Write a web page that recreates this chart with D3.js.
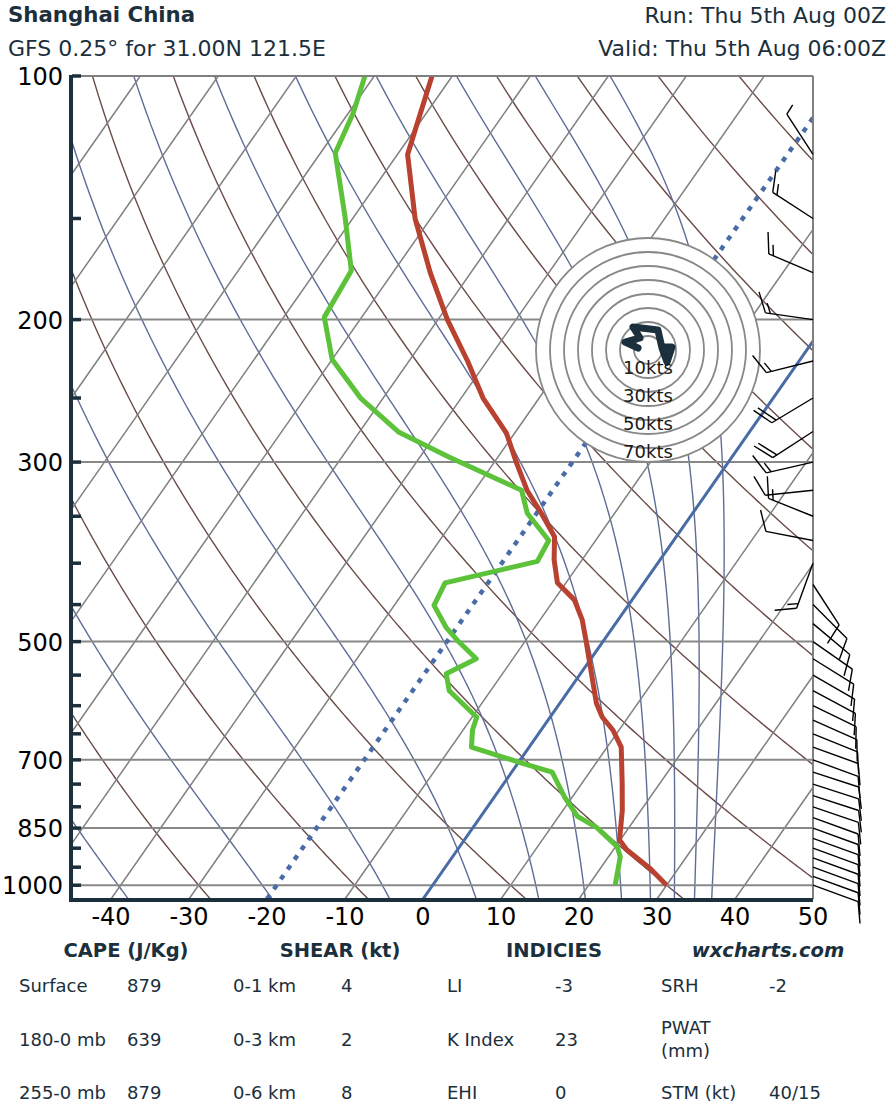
<!DOCTYPE html>
<html><head><meta charset="utf-8">
<script src="https://cdn.jsdelivr.net/npm/d3@7"></script>
<style>body{margin:0;background:#fff;} text{font-family:"DejaVu Sans",Verdana,sans-serif;}</style>
</head><body><svg id="c" width="892" height="1110"></svg>
<script>
// ---- data ----
const tempP = [100,125,150,175,200,225,250,276,300,325,347,371,396,423,444,470,498,596,620,643,675,749,808,879,904,955,1000];
const tempT = [-72.6,-68.7,-62.0,-55.2,-48.8,-42.5,-37.2,-31.1,-27.2,-23.3,-19.4,-15.6,-13.6,-11.1,-7.4,-4.6,-2.3,4.7,6.7,9.2,11.8,15.2,17.6,19.9,21.7,26.5,30.0];
const dewP = [100,111,124.5,149.4,174,198.6,224,250,275.6,295.6,325,347,375,398,423,451,480,498,525,548,575,620,643,675,707,725,778,822,849,896,922,1000];
const dewT = [-81.2,-79.4,-78.1,-71.1,-65.5,-64.8,-60.0,-52.9,-44.9,-36.3,-24.0,-21.2,-16.0,-15.6,-25.5,-24.9,-21.4,-18.8,-14.7,-17.2,-15.3,-9.4,-8.8,-7.4,0.6,5.2,9.0,12.4,15.9,20.2,21.5,23.4];
const windP = [125,150,175,200,225,250,275,300,325,350,375,400,425,450,475,500,525,550,575,600,625,650,675,700,725,750,775,800,825,850,875,900,925,950,975,1000];
const windDir = [327,303,293,278,256,239,237,257,264,292,281,200,147,135,130,125,122,120,118,116,114,112,110,110,108,108,108,109,110,110,110,110,110,110,110,110];
const windSpd = [5,15,15,15,15,20,20,15,10,15,10,15,10,10,10,10,10,10,10,10,10,10,10,10,10,10,10,10,10,10,10,10,10,10,10,10];
const hodoU = [-7.1,-16.4,-5.7,-10.7,7.1,10,13.6,17.1,10];
const hodoV = [1.4,5.7,8.6,16.4,14.3,1.4,-8.6,2.1,2.1];
const hodoRings = [10,20,30,40,50,60,70,80];
const hodoLabels = ["10kts","30kts","50kts","70kts"];
const pLabels = [100,200,300,500,700,850,1000];
const pTicks = [100,150,200,250,300,350,400,450,500,550,600,650,700,750,800,850,900,950,1000];
const tLabels = [-40,-30,-20,-10,0,10,20,30,40,50];
const isoT = d3.range(-110, 51, 10).filter(t => t !== 0 && t !== -20);
const dryTheta = d3.range(-50, 231, 20);      // deg C
const moistThetaE = d3.range(-40, 161, 20);   // deg C
const title = "Shanghai China";
const subtitle = "GFS 0.25\u00b0 for 31.00N 121.5E";
const runText = "Run: Thu 5th Aug 00Z";
const validText = "Valid: Thu 5th Aug 06:00Z";
const tableHeaders = ["CAPE (J/Kg)","SHEAR (kt)","INDICIES","wxcharts.com"];
const tableRows = [
  ["Surface","879","0-1 km","4","LI","-3","SRH","-2"],
  ["180-0 mb","639","0-3 km","2","K Index","23","PWAT\n(mm)",""],
  ["255-0 mb","879","0-6 km","8","EHI","0","STM (kt)","40/15"]
];

// ---- layout ----
const svg = d3.select("#c");
const L = 72, R = 813, T = 76, B = 899, SKEW = 0.699;
const yS = d3.scaleLog().domain([100, 1040]).range([T, B]);
const xS = d3.scaleLinear().domain([-45, 50]).range([L, R]);
const px = (t, p) => xS(t) + SKEW * (B - yS(p));
const pGrid = d3.range(100, 1041, 5);

svg.append("defs").append("clipPath").attr("id","clip").append("rect")
  .attr("x",L).attr("y",T).attr("width",R-L).attr("height",B-T);
const g = svg.append("g").attr("clip-path","url(#clip)");
const line = d3.line().x(d=>d[0]).y(d=>d[1]);

// dry adiabats
dryTheta.forEach(th => {
  const pts = pGrid.map(p => [px((th+273.15)*Math.pow(p/1000,0.2857)-273.15, p), yS(p)]);
  g.append("path").attr("d", line(pts)).attr("fill","none").attr("stroke","#6b4b47").attr("stroke-width",1.4);
});
// moist adiabats
function thetaE(tc, p){
  const tk = tc+273.15;
  const es = 6.112*Math.exp(17.67*tc/(tc+243.5));
  const r = Math.max(0, 622*es/(p-es));
  return tk*Math.pow(1000/p, 0.2854*(1-0.00028*r))*Math.exp((3.376/tk-0.00254)*r*(1+0.00081*r));
}
function solveT(te, p){
  let lo=-170, hi=40;
  for(let i=0;i<60;i++){ const m=(lo+hi)/2; if(thetaE(m,p)>te) hi=m; else lo=m; }
  return (lo+hi)/2;
}
moistThetaE.forEach(te => {
  const pts = pGrid.map(p => [px(solveT(te+273.15,p), p), yS(p)]);
  g.append("path").attr("d", line(pts)).attr("fill","none").attr("stroke","#5d6d96").attr("stroke-width",1.4);
});
// isotherms
isoT.forEach(t => {
  g.append("line").attr("x1",px(t,1040)).attr("y1",yS(1040)).attr("x2",px(t,100)).attr("y2",yS(100))
    .attr("stroke","#7f7f7f").attr("stroke-width",1.5);
});
// isobars
pLabels.forEach(p => {
  g.append("line").attr("x1",L).attr("x2",R).attr("y1",yS(p)).attr("y2",yS(p))
    .attr("stroke","#888").attr("stroke-width",2);
});
// 0 and -20 isotherms
g.append("line").attr("x1",px(0,1040)).attr("y1",yS(1040)).attr("x2",px(0,100)).attr("y2",yS(100))
  .attr("stroke","#4a6ca6").attr("stroke-width",3);
g.append("line").attr("x1",px(-20,1040)).attr("y1",yS(1040)).attr("x2",px(-20,100)).attr("y2",yS(100))
  .attr("stroke","#4a6ca6").attr("stroke-width",4.5).attr("stroke-dasharray","5,7");

// profiles
const prof = (P, Tv) => P.map((p,i)=>[px(Tv[i],p), yS(p)]);
g.append("path").attr("d", line(prof(dewP,dewT))).attr("fill","none").attr("stroke","#5cc23a")
  .attr("stroke-width",5).attr("stroke-linejoin","round");
g.append("path").attr("d", line(prof(tempP,tempT))).attr("fill","none").attr("stroke","#b9412f")
  .attr("stroke-width",5).attr("stroke-linejoin","round");

// frame
svg.append("line").attr("x1",L).attr("x2",R).attr("y1",T).attr("y2",T).attr("stroke","#808080").attr("stroke-width",2);
svg.append("line").attr("x1",R).attr("x2",R).attr("y1",T).attr("y2",B).attr("stroke","#808080").attr("stroke-width",2);

// hodograph
const hx = 648, hy = 350;
const hs = d3.scaleLinear().domain([0,80]).range([0,112]);
svg.append("circle").attr("cx",hx).attr("cy",hy).attr("r",hs(80)).attr("fill","#fff");
hodoRings.forEach(k => svg.append("circle").attr("cx",hx).attr("cy",hy).attr("r",hs(k))
  .attr("fill","none").attr("stroke","#888").attr("stroke-width",1.8));
svg.append("path").attr("d", line(hodoU.map((u,i)=>[hx+hs(u), hy-hs(hodoV[i])])))
  .attr("fill","none").attr("stroke","#1b2f3c").attr("stroke-width",7).attr("stroke-linejoin","round").attr("stroke-linecap","round");
hodoLabels.forEach((t,i) => svg.append("text").attr("x",hx).attr("y",hy+hs(10+20*i)+10)
  .attr("text-anchor","middle").attr("font-size",18).attr("fill","#1a1a1a").text(t));

// wind barbs
const wb = svg.append("g").attr("stroke","#000").attr("stroke-width",1.4).attr("fill","none");
windP.forEach((p,i) => {
  const d = windDir[i]*Math.PI/180, s = Math.round(windSpd[i]/5)*5;
  const ux = Math.sin(d), uy = -Math.cos(d);
  const qx = -uy, qy = ux;
  const x0 = R, y0 = yS(p), Ls = 48;
  const tx = x0+ux*Ls, ty = y0+uy*Ls;
  wb.append("line").attr("x1",x0).attr("y1",y0).attr("x2",tx).attr("y2",ty);
  const ca = Math.cos(25*Math.PI/180), sa = Math.sin(25*Math.PI/180);
  const bx = qx*ca+ux*sa, by = qy*ca+uy*sa;
  let full = Math.floor(s/10), half = (s%10)>=5 ? 1 : 0, off = 0;
  for(let k=0;k<full;k++){
    const sx = tx-ux*off, sy = ty-uy*off;
    wb.append("line").attr("x1",sx).attr("y1",sy).attr("x2",sx+bx*22).attr("y2",sy+by*22);
    off += 5;
  }
  if(half){
    const sx = tx-ux*off, sy = ty-uy*off;
    wb.append("line").attr("x1",sx).attr("y1",sy).attr("x2",sx+bx*11).attr("y2",sy+by*11);
  }
});

// axes
const dark = "#1b2f3c";
svg.append("line").attr("x1",L-1).attr("x2",L-1).attr("y1",T-1).attr("y2",B+2).attr("stroke",dark).attr("stroke-width",4);
svg.append("line").attr("x1",L-3).attr("x2",R).attr("y1",B+1).attr("y2",B+1).attr("stroke",dark).attr("stroke-width",4);
pTicks.forEach(p => svg.append("line").attr("x1",L).attr("x2",L+9).attr("y1",yS(p)).attr("y2",yS(p))
  .attr("stroke",dark).attr("stroke-width",3.5));
pLabels.forEach(p => svg.append("text").attr("x",63).attr("y",yS(p)+9).attr("text-anchor","end")
  .attr("font-size",24).attr("fill","#000").text(p));
tLabels.forEach(t => svg.append("text").attr("x",xS(t)).attr("y",925).attr("text-anchor","middle")
  .attr("font-size",24).attr("fill","#000").text(t));

// titles
svg.append("text").attr("x",8).attr("y",22).attr("font-size",21.3).attr("font-weight","bold").attr("fill",dark).text(title);
svg.append("text").attr("x",8).attr("y",56).attr("font-size",22).attr("fill",dark).text(subtitle);
svg.append("text").attr("x",886).attr("y",23).attr("font-size",22).attr("text-anchor","end").attr("fill",dark).text(runText);
svg.append("text").attr("x",886).attr("y",56).attr("font-size",22).attr("text-anchor","end").attr("fill",dark).text(validText);

// table
const colX = [19,233,447,661];
tableHeaders.forEach((h,i) => svg.append("text").attr("x",colX[i]+107).attr("y",957).attr("text-anchor","middle")
  .attr("font-size",19.5).attr("font-weight","bold").attr("font-style", i===3?"italic":"normal").attr("fill",dark).text(h));
const rowY = [992,1046,1099];
tableRows.forEach((row,r) => row.forEach((cell,c) => {
  const x = colX[Math.floor(c/2)] + (c%2 ? 108 : 0);
  const parts = cell.split("\n");
  parts.forEach((pt,k) => svg.append("text").attr("x",x).attr("y", rowY[r] + (parts.length>1 ? (k===0?-12:11) : 0))
    .attr("font-size",18).attr("fill",dark).text(pt));
}));
</script></body></html>
